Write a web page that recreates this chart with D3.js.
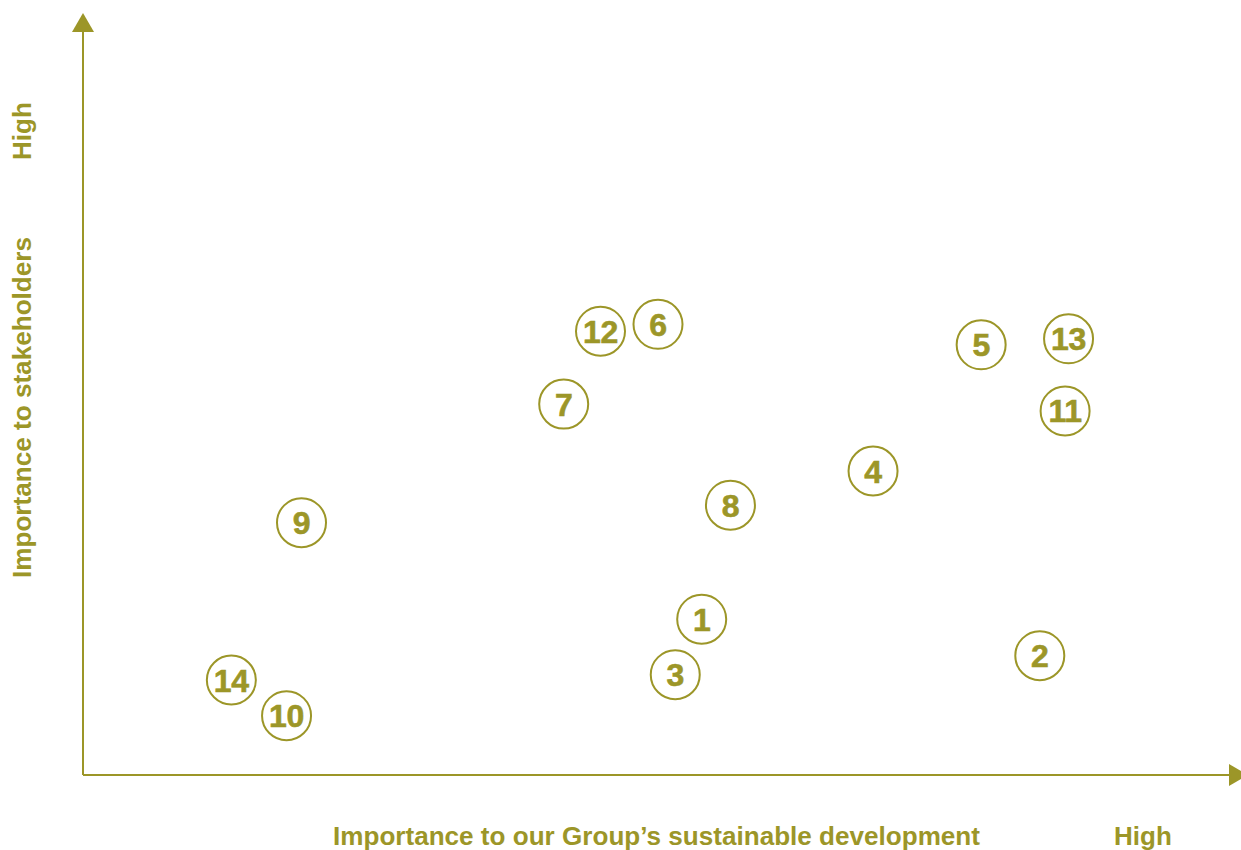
<!DOCTYPE html>
<html>
<head>
<meta charset="utf-8">
<script src="https://cdn.jsdelivr.net/npm/d3@7"></script>
<style>
  body { margin: 0; background: #fff; }
  svg text { font-family: "Liberation Sans", Arial, Helvetica, sans-serif; font-weight: bold; }
</style>
</head>
<body>
<div class="matrix-canvas"></div>
<script>
// material topics: id, importance to group (x), importance to stakeholders (y)
const topicIds = [1, 2, 3, 4, 5, 6, 7, 8, 9, 10, 11, 12, 13, 14];
const groupImportance = [5.38, 8.32, 5.15, 6.87, 7.81, 5.0, 4.18, 5.63, 1.90, 1.77, 8.54, 4.50, 8.57, 1.29];
const stakeholderImportance = [2.05, 1.57, 1.32, 4.0, 5.66, 5.93, 4.88, 3.55, 3.32, 0.78, 4.79, 5.84, 5.74, 1.25];

const xLabel = 'Importance to our Group\u2019s sustainable development';
const yLabel = 'Importance to stakeholders';
const highLabel = 'High';

const color = '#9c9628';
const dims = { width: 1241, height: 850 };
const origin = { x: 83, y: 775 };

const svg = d3.select('.matrix-canvas')
  .append('svg')
  .attr('width', dims.width)
  .attr('height', dims.height);

const x = d3.scaleLinear().domain([0, 10]).range([origin.x, 1233]);
const y = d3.scaleLinear().domain([0, 10]).range([origin.y, 15]);

//axes with arrow heads
svg.append('line')
  .attr('x1', origin.x).attr('y1', origin.y)
  .attr('x2', origin.x).attr('y2', 30)
  .attr('stroke', color).attr('stroke-width', 2);
svg.append('path')
  .attr('d', `M${origin.x},13 L${origin.x - 11},32 L${origin.x + 11},32 Z`)
  .attr('fill', color);

svg.append('line')
  .attr('x1', origin.x).attr('y1', origin.y)
  .attr('x2', 1232).attr('y2', origin.y)
  .attr('stroke', color).attr('stroke-width', 2);
svg.append('path')
  .attr('d', `M1248,${origin.y} L1229,${origin.y - 11} L1229,${origin.y + 11} Z`)
  .attr('fill', color);

//axis labels
svg.append('text')
  .attr('x', 333).attr('y', 845)
  .attr('font-size', 26)
  .attr('fill', color)
  .attr('textLength', 647)
  .attr('lengthAdjust', 'spacingAndGlyphs')
  .text(xLabel);
svg.append('text')
  .attr('x', 1114).attr('y', 845)
  .attr('font-size', 26)
  .attr('fill', color)
  .text(highLabel);

svg.append('text')
  .attr('transform', 'translate(31,578) rotate(-90)')
  .attr('font-size', 26)
  .attr('fill', color)
  .attr('textLength', 341)
  .attr('lengthAdjust', 'spacingAndGlyphs')
  .text(yLabel);
svg.append('text')
  .attr('transform', 'translate(31,160) rotate(-90)')
  .attr('font-size', 26)
  .attr('fill', color)
  .text(highLabel);

//topic markers
const topics = topicIds.map((id, i) => ({ id, gx: groupImportance[i], sy: stakeholderImportance[i] }));

const marks = svg.selectAll('g.topic')
  .data(topics)
  .enter()
  .append('g')
    .attr('class', 'topic')
    .attr('transform', d => `translate(${x(d.gx)}, ${y(d.sy)})`);

marks.append('circle')
  .attr('r', 24.5)
  .attr('fill', '#fff')
  .attr('stroke', color)
  .attr('stroke-width', 2);

marks.append('text')
  .attr('text-anchor', 'middle')
  .attr('dy', 11.5)
  .attr('font-size', 32)
  .attr('letter-spacing', -0.3)
  .attr('stroke', color)
  .attr('stroke-width', 0.6)
  .attr('fill', color)
  .text(d => d.id);
</script>
</body>
</html>
